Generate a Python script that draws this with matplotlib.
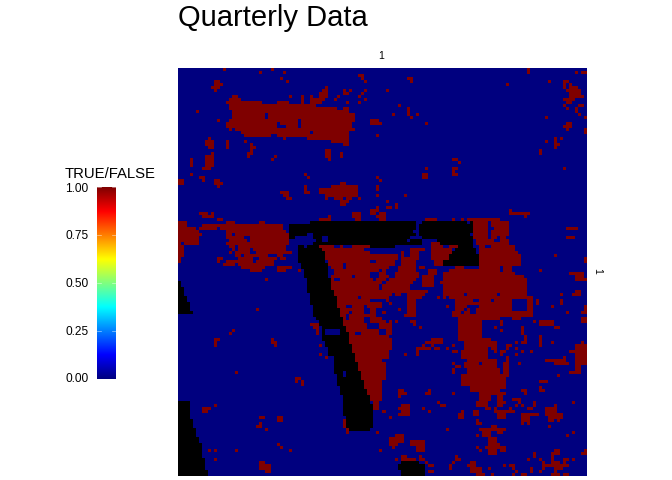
import numpy as np
import matplotlib
matplotlib.use("Agg")
import matplotlib.pyplot as plt
from matplotlib.colors import LinearSegmentedColormap

plt.rcParams['font.family'] = ['Liberation Sans', 'DejaVu Sans']

N_CELLS = 136
# cells: (row_from, row_to, col_from, col_to), both ends included
TRUE_CELLS = [
    # upper blob
    (9,9,18,19),(10,10,17,20),(11,11,16,27),(11,11,33,36),(12,12,17,42),(13,13,17,52),(13,13,55,56),
    (14,14,18,56),(15,16,18,58),(17,17,17,58),(18,19,16,57),(20,20,17,17),(20,20,19,58),(21,21,21,56),
    (22,22,22,30),(22,22,33,56),(23,23,35,35),(23,23,43,56),(24,24,51,56),(25,25,55,56),
    # upper left specks
    (0,0,15,15),(0,0,31,31),(1,1,27,27),(1,1,35,35),(3,3,34,34),(4,4,36,36),(4,4,12,13),(5,5,12,14),(6,6,11,13),(7,7,12,12),
    (2,2,60,61),(3,3,61,61),(4,4,62,62),(6,6,49,49),(7,7,48,49),(8,8,47,49),(9,9,44,44),(9,9,47,49),(9,9,37,37),
    (9,11,41,41),(10,10,44,48),(11,11,44,47),(12,12,43,45),(13,13,43,44),(10,10,52,52),(9,9,53,53),(7,8,55,55),(8,8,56,56),
    (7,7,57,57),(9,9,60,60),(8,8,61,61),(7,7,62,62),(10,10,62,62),(11,11,60,60),(11,11,56,56),(12,12,37,37),(14,14,6,6),
    (17,17,13,13),(17,18,64,66),(23,23,10,10),(24,25,9,11),(26,26,10,11),(24,26,16,16),(24,24,22,22),(25,27,24,24),(26,26,25,25),
    (28,28,23,24),(29,29,23,23),(28,28,11,11),(29,29,32,32),(30,30,31,31),(29,32,9,11),(33,33,8,10),(30,32,4,4),(35,35,4,4),
    (36,36,7,8),(37,37,8,8),(37,38,12,13),(38,38,14,14),(39,39,13,13),(37,38,0,1),(27,29,49,50),(30,30,50,50),(28,29,54,54),
    (22,22,66,66),(35,35,42,42),(36,36,43,43),(39,41,42,42),(41,41,43,43),(41,41,34,36),(42,42,35,36),(43,43,36,37),
    (38,38,54,55),(39,39,51,59),(40,41,47,59),(42,42,49,59),(43,43,49,49),(43,43,52,54),(43,43,56,57),(43,43,60,60),
    (36,36,66,66),(39,40,66,66),(42,42,66,66),
    # upper right specks
    (3,3,76,77),(4,4,77,77),(7,7,69,69),(12,12,73,73),(13,15,76,76),(15,15,71,71),(15,15,79,79),(16,16,77,77),(18,18,82,82),(18,18,67,67),
    (0,1,116,116),(5,5,109,109),(4,4,123,123),(1,1,132,132),(1,1,134,135),(4,4,128,129),(5,5,128,128),(5,5,130,130),(6,6,128,128),
    (6,6,130,132),(7,7,129,133),(8,8,130,133),(9,9,130,134),(10,10,128,131),(11,11,129,130),(12,12,128,128),(12,12,133,134),(13,13,129,129),
    (13,14,132,132),(15,15,133,133),(16,16,122,122),(16,16,135,135),(18,18,129,130),(19,19,128,130),(20,20,129,129),(20,21,135,135),
    (23,24,125,125),(23,23,127,127),(24,24,122,122),(25,25,125,126),(26,26,125,125),(27,28,120,120),(30,30,91,92),(31,31,93,93),
    (33,33,91,92),(34,35,91,91),(35,35,92,92),(33,33,82,82),(35,36,81,82),(33,33,128,128),(37,37,67,67),(42,42,75,75),
    # specks above the band
    (44,44,54,56),(45,45,54,55),(46,47,66,66),(47,48,64,65),(48,49,58,60),(50,50,59,60),(49,49,66,66),(48,48,7,9),(48,48,11,11),(49,49,8,11),
    (50,50,13,14),(50,50,47,50),(49,49,50,50),(44,44,69,69),(46,46,69,70),(45,46,72,72),(48,48,67,68),(49,50,67,68),(50,51,82,83),(50,50,84,85),
    (50,50,91,91),(50,50,94,94),(50,50,96,98),(47,47,110,110),(48,48,110,116),(49,49,115,115),(53,53,129,132),(56,56,129,131),(62,62,125,125),
    (63,64,135,135),(67,67,120,120),(68,68,130,132),(68,68,133,134),(69,70,132,134),(70,70,135,135),(74,75,132,133),(75,75,131,131),(75,75,127,127),
    (77,78,127,127),(79,79,124,124),(81,81,129,129),(79,81,135,135),(81,81,134,134),(83,84,134,135),(77,78,119,119),(76,77,116,117),(84,84,118,118),
    (84,85,120,124),(86,86,125,126),(86,88,114,114),(89,90,115,115),(89,90,120,120),(84,85,107,107),(87,87,107,107),(86,86,105,105),
    (76,76,86,86),(76,76,88,88),(79,79,89,89),
    # left red band
    (51,51,0,2),(51,51,16,18),(51,51,27,28),(52,52,0,2),(52,52,8,34),(53,53,0,5),(53,53,7,12),(53,53,14,34),(54,54,0,6),(54,54,16,35),
    (55,55,0,7),(55,55,16,17),(55,55,19,36),(56,56,0,6),(56,56,16,21),(56,56,24,36),(57,57,0,6),(57,57,17,22),(57,57,24,36),
    (58,58,0,0),(58,58,2,6),(58,58,16,36),(59,59,0,1),(59,59,17,18),(59,59,20,35),(60,60,0,1),(60,60,18,18),(60,60,20,23),(60,60,25,35),
    (61,61,0,1),(61,61,17,17),(61,61,19,23),(61,61,26,37),(62,62,0,1),(62,62,19,20),(62,62,22,29),(62,62,33,34),(63,64,0,0),(63,63,13,14),(63,63,20,24),
    (63,63,27,32),(63,63,34,35),(64,64,13,13),(64,64,16,24),(64,64,26,31),(65,65,15,18),(65,65,20,31),(66,66,21,28),(66,66,33,37),(67,67,24,27),(67,67,33,35),
    (67,67,40,40),(70,70,29,29),(80,80,26,26),(85,85,44,46),(86,86,45,46),(87,88,46,46),(87,87,18,18),(88,88,17,17),(90,90,12,13),(90,91,31,31),
    (91,92,12,12),(91,92,32,32),(92,92,47,47),(95,95,47,47),(96,96,49,49),(101,101,19,19),(103,103,39,40),(104,104,39,39),(104,105,41,41),
    (112,112,12,12),(113,113,8,10),(114,114,8,9),(116,116,27,28),(116,117,33,34),(118,118,27,27),(119,119,26,27),(120,120,29,29),(117,119,55,55),
    (120,121,56,56),(121,121,66,66),(125,125,33,33),(126,126,34,34),(127,127,37,37),(127,127,10,10),(127,127,12,12),(127,127,19,19),(130,130,12,12),
    (131,133,27,28),(132,133,29,30),(134,134,29,30),
    # triangle
    (59,59,47,63),(60,60,48,61),(61,61,49,63),(62,62,49,72),(63,63,49,72),(64,65,50,71),(66,66,50,69),(67,67,50,68),(68,68,50,68),(69,69,51,69),
    (70,70,51,78),(71,71,51,77),(72,73,51,76),(74,74,52,82),(75,75,52,70),(75,75,72,73),(75,75,76,81),(76,76,53,69),(76,76,76,80),(77,78,53,67),
    (79,81,53,67),(80,82,54,67),(83,83,55,67),(84,88,55,70),(89,89,57,69),(90,90,57,70),(91,93,57,70),(94,94,58,69),(95,96,59,69),(97,97,59,67),(98,100,60,68),
    (101,103,61,68),(104,106,62,67),(107,108,63,67),(109,110,64,67),(111,113,65,66),
    # right of the triangle
    (60,60,77,81),(61,61,74,74),(61,61,77,79),(62,62,74,74),(62,62,77,79),(63,63,74,79),(64,65,74,78),(66,67,73,78),(68,69,72,79),(66,66,80,81),(67,68,83,85),
    (69,72,81,84),(76,76,77,78),(77,78,76,78),(79,81,76,78),(82,82,75,78),(84,84,77,78),(85,85,78,78),(86,86,80,80),(81,81,68,68),(78,78,70,70),(77,77,69,69),(80,80,73,73),(84,84,72,72),
    (58,59,84,87),(59,59,90,92),(60,63,84,90),(64,65,85,87),
    # main right blob
    (50,50,99,106),(51,56,98,102),(51,55,104,109),(56,56,104,105),(56,56,107,108),(57,57,99,104),(57,57,107,109),(58,58,99,109),(59,60,100,111),(61,61,100,112),
    (62,65,100,113),(66,66,92,94),(66,66,100,110),(67,67,90,110),(68,68,88,111),(69,69,88,114),(70,70,88,115),(71,71,87,115),(72,75,88,115),(76,76,90,115),
    (77,80,92,110),(78,82,116,117),(81,82,91,117),(83,83,93,106),(83,83,111,113),(84,90,93,100),(90,90,101,103),(91,92,95,105),(93,93,95,102),(93,93,104,105),
    (94,96,94,102),(94,94,105,105),(97,97,96,105),(98,99,95,105),(100,101,96,106),(102,105,94,108),(106,106,97,108),(107,107,97,106),(108,108,100,106),
    (109,110,100,103),(111,111,99,102),(112,112,99,102),(113,113,102,103),(114,115,98,99),
    # lower right specks
    (90,90,84,87),(91,91,82,87),(92,92,81,81),(92,92,84,84),(93,93,79,83),(93,93,85,86),(94,95,79,79),(93,93,89,89),(94,94,91,92),(92,92,91,91),(95,95,75,75),(92,92,109,110),(93,93,109,109),(94,94,107,108),
    (95,95,107,107),(93,93,112,112),(95,95,112,112),(94,94,114,114),(94,94,117,117),(96,97,109,109),(98,98,113,113),(98,102,108,109),(91,91,112,112),(91,91,114,115),
    (91,92,120,120),(91,91,124,124),(91,91,134,134),(92,98,132,135),(94,94,130,131),(96,97,128,128),(97,97,122,128),(98,98,125,129),(98,101,132,133),(101,101,130,131),
    (102,102,126,126),(104,104,120,122),(106,107,120,120),(107,107,121,121),(98,98,91,91),(99,99,92,93),(100,101,91,91),(98,102,67,68),(107,107,73,74),(108,108,73,75),
    (109,109,73,73),(108,108,82,83),(107,107,83,83),(108,108,91,91),(111,111,86,86),(112,112,87,88),(113,113,81,81),(114,114,83,83),(114,114,68,68),(116,116,70,70),
    (112,112,74,76),(113,113,73,76),(114,114,74,76),(115,115,73,76),(114,114,94,94),(115,116,93,94),(120,120,89,89),(108,108,106,108),(109,110,106,107),(111,111,106,108),
    (112,112,106,107),(113,114,105,105),(114,114,105,111),(113,113,110,110),(115,116,106,108),(110,110,111,113),(111,111,113,113),(112,112,112,112),(112,112,114,114),
    (113,113,116,117),(111,112,118,118),(107,107,114,115),(108,108,115,115),(115,115,114,119),(116,117,114,116),(118,118,114,114),(118,118,116,116),(112,112,125,125),
    (113,114,122,125),(115,115,122,127),(116,116,123,127),(117,117,123,124),(117,117,126,126),(119,119,123,123),(111,111,131,131),(121,121,131,131),(122,122,129,129),
    (117,118,99,99),(118,118,100,100),(120,120,100,100),(120,122,101,103),(119,119,104,105),(120,120,103,108),(121,121,106,107),(122,122,99,99),(123,128,103,105),(125,126,106,106),
    (126,127,107,108),(126,126,102,102),(126,126,99,99),(127,127,100,100),(122,122,72,74),(123,124,70,74),(125,125,70,72),(126,126,71,71),(124,125,77,81),(126,127,79,81),
    (127,127,67,67),(129,129,74,75),(130,130,74,78),(130,130,72,72),(129,130,80,80),(130,130,81,81),(131,131,82,82),(132,132,83,84),(134,134,83,84),(132,133,90,90),(131,131,91,91),
    (129,130,92,92),(130,130,93,93),(131,131,97,98),(132,132,96,98),(133,134,97,100),(135,135,99,101),(133,133,103,103),(135,135,104,104),(132,132,108,108),(132,132,110,111),
    (133,133,111,111),(135,135,111,111),(134,134,112,112),(135,135,114,115),(128,129,118,118),(130,130,116,116),(130,130,120,120),(131,133,121,121),(133,134,117,117),(134,134,120,120),
    (127,128,125,126),(128,131,124,124),(131,131,125,126),(132,132,122,128),(133,133,125,127),(130,130,128,129),(131,131,128,128),(132,132,129,129),(130,130,131,131),(127,128,135,135),
    (128,128,134,134),(135,135,124,126),(135,135,128,129),(134,134,125,125),
]
# blue holes punched back into the red areas
FALSE_CELLS = [
    (15,16,29,29),(17,19,40,40),(18,18,33,33),(19,19,33,35),(21,21,44,44),(53,53,6,6),(59,59,52,53),(59,59,55,57),(60,60,62,62),(64,64,64,65),(65,66,55,55),(66,66,50,50),
    (67,68,50,51),(68,69,64,66),(67,67,67,67),(69,69,58,58),(70,70,52,53),(70,70,65,65),(70,70,69,69),(71,71,68,68),(72,73,67,67),(76,76,60,60),(77,77,64,64),(77,77,65,67),(79,79,56,57),(79,79,62,62),(80,81,62,63),(80,82,66,67),(81,81,57,57),
    (82,83,56,56),(83,84,62,63),(84,84,69,69),(85,86,63,66),(87,88,67,68),(88,88,59,60),(75,75,95,95),(75,75,106,106),(77,77,98,99),(77,77,104,104),(79,79,96,97),(79,79,98,99),(80,80,95,95),(81,81,94,94),(80,81,97,98),
    (66,67,107,107),(98,98,100,100),(53,53,104,104),(59,59,102,103),
]
NA_CELLS = [
    (51,51,44,78),(51,51,81,95),(51,51,97,97),(52,53,37,78),(52,53,80,97),(54,54,37,77),(54,54,80,97),(55,55,37,42),(55,55,45,78),(55,55,80,96),(56,56,37,38),(56,56,45,47),(56,56,50,76),
    (56,56,81,97),(57,57,46,47),(57,57,50,75),(57,57,77,80),(57,57,86,97),(58,58,45,80),(58,58,87,97),(59,59,40,41),(59,59,43,46),(59,59,64,71),(59,59,93,97),
    (60,60,92,98),(61,61,91,98),(62,63,90,99),(64,65,88,99),
    # long diagonal
    (60,60,40,47),(61,64,40,48),(65,66,41,49),(67,69,42,49),(70,73,43,50),(74,74,43,51),(75,75,44,51),(76,78,44,52),(79,79,45,52),(80,82,45,53),(83,83,46,54),(84,85,47,54),(86,87,48,55),
    (88,89,48,56),(90,90,48,56),(91,91,49,56),(92,92,49,57),(93,94,50,57),(95,95,50,58),(96,97,52,58),(98,100,52,59),(101,101,52,60),(102,103,53,60),(104,105,53,61),(106,106,54,61),
    (107,108,54,62),(109,111,55,63),(112,115,55,64),(116,119,56,64),(120,120,57,63),
    # left edge and bottom patches
    (71,72,0,0),(73,75,0,1),(76,77,0,2),(78,80,0,3),(81,81,0,4),(111,116,0,3),(117,119,0,4),(120,122,0,5),(123,124,0,6),(125,129,0,7),(130,133,0,8),(134,135,0,9),
    (131,131,74,79),(132,133,73,81),(134,135,74,81),
]
NA_HOLES = [(87,88,49,53),(101,102,55,55)]

TITLE = "Quarterly Data"
LEGEND_TITLE = "TRUE/FALSE"
LEGEND_TICKS = [0.00, 0.25, 0.50, 0.75, 1.00]
JET = ["#00007F", "#0000FF", "#007FFF", "#00FFFF", "#7FFF7F", "#FFFF00", "#FF7F00", "#FF0000", "#7F0000"]

grid = np.zeros((N_CELLS, N_CELLS))
for r0, r1, c0, c1 in TRUE_CELLS:
    grid[r0:r1+1, c0:c1+1] = 1
for r0, r1, c0, c1 in FALSE_CELLS:
    grid[r0:r1+1, c0:c1+1] = 0
for r0, r1, c0, c1 in NA_CELLS:
    grid[r0:r1+1, c0:c1+1] = np.nan
for r0, r1, c0, c1 in NA_HOLES:
    grid[r0:r1+1, c0:c1+1] = 0

W, H = 672, 480
def box(x0, y0, x1, y1):
    return [x0/W, 1-y1/H, (x1-x0)/W, (y1-y0)/H]

cmap = LinearSegmentedColormap.from_list("jet9", JET, N=256)
cmap.set_bad("black")

fig = plt.figure(figsize=(W/100, H/100), dpi=100)
ax = fig.add_axes(box(178, 68, 586.5, 476))
ax.imshow(np.ma.masked_invalid(grid), cmap=cmap, vmin=0, vmax=1, aspect="auto", interpolation="nearest")
ax.axis("off")

fig.text(178/W, 1-26/H, TITLE, fontsize=21, ha="left", va="baseline")
fig.text(381.5/W, 1-56/H, "1", fontsize=7.5, ha="center", va="center")
fig.text(597/W, 1-271/H, "1", fontsize=7.5, ha="center", va="center", rotation=-90)

cax = fig.add_axes(box(97, 187, 115.5, 378.5))
cax.imshow(np.linspace(1, 0, 256).reshape(-1, 1), cmap=cmap, vmin=0, vmax=1, aspect="auto", extent=[0, 1, 0, 1])
cax.axis("off")
for t in LEGEND_TICKS:
    cax.plot([0, 0.2], [t, t], color="white", lw=0.5, alpha=0.6, clip_on=True)
    cax.plot([0.8, 1], [t, t], color="white", lw=0.5, alpha=0.6, clip_on=True)
    fig.text(88.5/W, 1-(379.5 - t*191)/H, "%.2f" % t, fontsize=8.6, ha="right", va="center")
cax.set_xlim(0, 1)
cax.set_ylim(0, 1)
fig.text(65/W, 1-178/H, LEGEND_TITLE, fontsize=10.7, ha="left", va="baseline")

fig.savefig("out.png", dpi=100)
